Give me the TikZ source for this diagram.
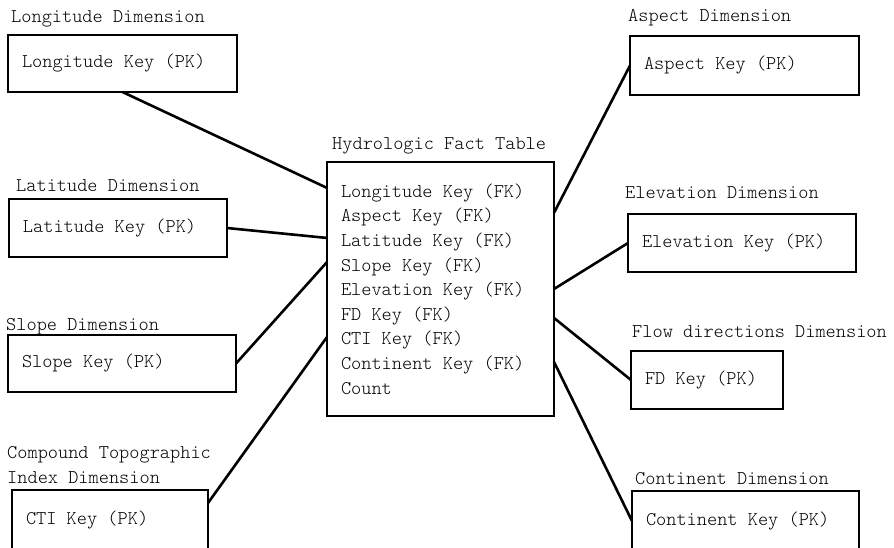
\documentclass[tikz,border=0pt]{standalone}
\usepackage{fontspec}
\setmonofont{Latin Modern Mono Light}
\usetikzlibrary{calc}
\begin{document}
\begin{tikzpicture}[x=1pt,y=-1pt]
  \tikzset{
      every node/.append style = {
          font = \ttfamily\fontsize{19.4}{24.6}\selectfont
      },
      every edge/.append style = {
          line width = 2.6pt
      },
      dimbox/.style = {
          draw, line width = 2.6pt, outer sep = 0pt,
          anchor = north west, inner xsep = 14pt, inner ysep = 0pt,
          minimum height = 58pt, align = flush left, text width = #1
      },
      dimname/.style = {
          anchor = base west, inner sep = 0pt
      }
  }
  \useasboundingbox (0,0) rectangle (894,547);
  \clip (0,0) rectangle (894,547);
  \node[dimname] (lonname) at (11,22) {Longitude Dimension};
  \node[dimname] (latname) at (16,191) {Latitude Dimension};
  \node[dimname] (slopename) at (6,330) {Slope Dimension};
  \node[dimname, align=left] (ctiname) at (7,483) {Compound Topographic\\Index Dimension};
  \node[dimname] (factname) at (332,149) {Hydrologic Fact Table};
  \node[dimname] (aspectname) at (628,21) {Aspect Dimension};
  \node[dimname] (elevname) at (625,198) {Elevation Dimension};
  \node[dimname] (fdname) at (632,337) {Flow directions Dimension};
  \node[dimname] (contname) at (635,484) {Continent Dimension};
  \node[dimbox=201pt, minimum height=57pt] (lon) at (8,35) {Longitude Key (PK)};
  \node[dimbox=190pt] (lat) at (9,199) {Latitude Key (PK)};
  \node[dimbox=200pt, minimum height=57pt] (slope) at (8,335) {Slope Key (PK)};
  \node[dimbox=168pt, minimum height=60pt] (cti) at (12,490) {CTI Key (PK)};
  \node[dimbox=199pt, minimum height=254pt] (fact) at (327,162) {Longitude Key (FK)\\Aspect Key (FK)\\Latitude Key (FK)\\Slope Key (FK)\\Elevation Key (FK)\\FD Key (FK)\\CTI Key (FK)\\Continent Key (FK)\\Count};
  \node[dimbox=201pt, minimum height=59pt] (aspect) at (630,36) {Aspect Key (PK)};
  \node[dimbox=200pt] (elev) at (628,214) {Elevation Key (PK)};
  \node[dimbox=124pt] (fd) at (631,351) {FD Key (PK)};
  \node[dimbox=199pt, minimum height=60pt] (cont) at (632,491) {Continent Key (PK)};
  \path (lon.south) edge ($(fact.north west)!0.102!(fact.south west)$);
  \path (lat.east) edge ($(fact.north west)!0.299!(fact.south west)$);
  \path (slope.east) edge ($(fact.north west)!0.394!(fact.south west)$);
  \path ($(cti.north east)+(0,13)$) edge ($(fact.north west)!0.689!(fact.south west)$);
  \path (aspect.west) edge ($(fact.north east)!0.2!(fact.south east)$);
  \path (elev.west) edge ($(fact.north east)!0.5!(fact.south east)$);
  \path (fd.west) edge ($(fact.north east)!0.614!(fact.south east)$);
  \path (cont.west) edge ($(fact.north east)!0.787!(fact.south east)$);
\end{tikzpicture}
\end{document}
